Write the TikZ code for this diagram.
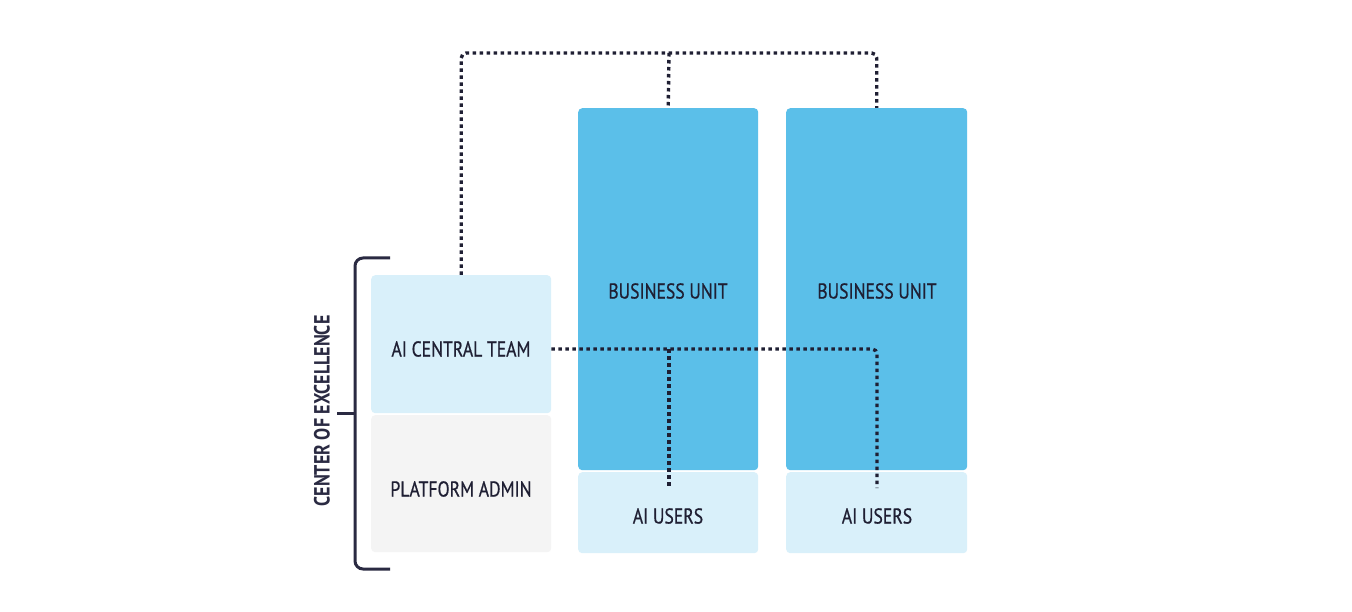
\documentclass[tikz,border=0pt]{standalone}
\usepackage{fontspec}
\setmainfont{PT Sans}
\newfontfamily\lblfont[FakeStretch=0.82,FakeBold=0.6]{PT Sans}
\newfontfamily\coefont[FakeStretch=0.82]{PT Sans}
\usetikzlibrary{calc}
\definecolor{bublue}{HTML}{5BBFE9}
\definecolor{lightblue}{HTML}{D9F0FA}
\definecolor{lightgray}{HTML}{F4F4F4}
\definecolor{ink}{HTML}{1F1F33}
\definecolor{navy}{HTML}{2A2A42}
\begin{document}
\begin{tikzpicture}[x=1pt,y=-1pt,
  box/.style={draw=none,rounded corners=4pt,inner sep=0pt,anchor=north west,
    font=\lblfont\fontsize{21.5}{24}\selectfont,text=ink},
  dotline/.style={draw=ink,line width=3.4pt,dash pattern=on 3.5pt off 3.5pt,rounded corners=5pt},
  bracket/.style={draw=navy,line width=3pt,rounded corners=8pt}]
\useasboundingbox[fill=white] (0,0) rectangle (1352,612);
% boxes
\node[box,fill=lightblue,minimum width=180pt,minimum height=138pt] (aict) at (371,275) {};
\node[box,fill=lightgray,minimum width=180pt,minimum height=137pt] (padm) at (371,415) {};
\node[box,fill=bublue,minimum width=180pt,minimum height=362pt] (bu1) at (578,108) {};
\node[box,fill=lightblue,minimum width=180pt,minimum height=81pt] (aiu1) at (578,472) {};
\node[box,fill=bublue,minimum width=181pt,minimum height=362pt] (bu2) at (786,108) {};
\node[box,fill=lightblue,minimum width=181pt,minimum height=81pt] (aiu2) at (786,472) {};
% labels
\node[box,anchor=center] (taict) at (461,349) {AI CENTRAL TEAM};
\node[box,anchor=center] (tpadm) at (461,489) {PLATFORM ADMIN};
\node[box,anchor=center] (tbu1) at (668,291) {BUSINESS UNIT};
\node[box,anchor=center] (tbu2) at (877,291) {BUSINESS UNIT};
\node[box,anchor=center] (taiu1) at (668,516) {AI USERS};
\node[box,anchor=center] (taiu2) at (877,516) {AI USERS};
% top dotted connector
\coordinate (top) at (669,53);
\draw[dotline] (aict.north) |- (top) -| (bu2.north);
\draw[dotline,rounded corners=0pt] (top) -- (bu1.north);
% middle dotted connector
\coordinate (mid) at (669,349);
\coordinate (end1) at (669,488);
\coordinate (end2) at (877,488);
\draw[dotline] (aict.east |- mid) -- (mid) -| (end2);
\draw[dotline,rounded corners=0pt] (mid) -- (end1);
% bracket
\coordinate (btop) at (390,258);
\coordinate (bbot) at (390,569);
\coordinate (bmid) at (337,413);
\draw[bracket] (btop) -- (355,258) -- (355,569) -- (bbot);
\draw[draw=navy,line width=3pt] (bmid) -- (355,413);
\node[rotate=90,font=\coefont\bfseries\fontsize{22}{24}\selectfont,text=navy,inner sep=0pt] (coe) at (322,411) {CENTER OF EXCELLENCE};
\end{tikzpicture}
\end{document}
